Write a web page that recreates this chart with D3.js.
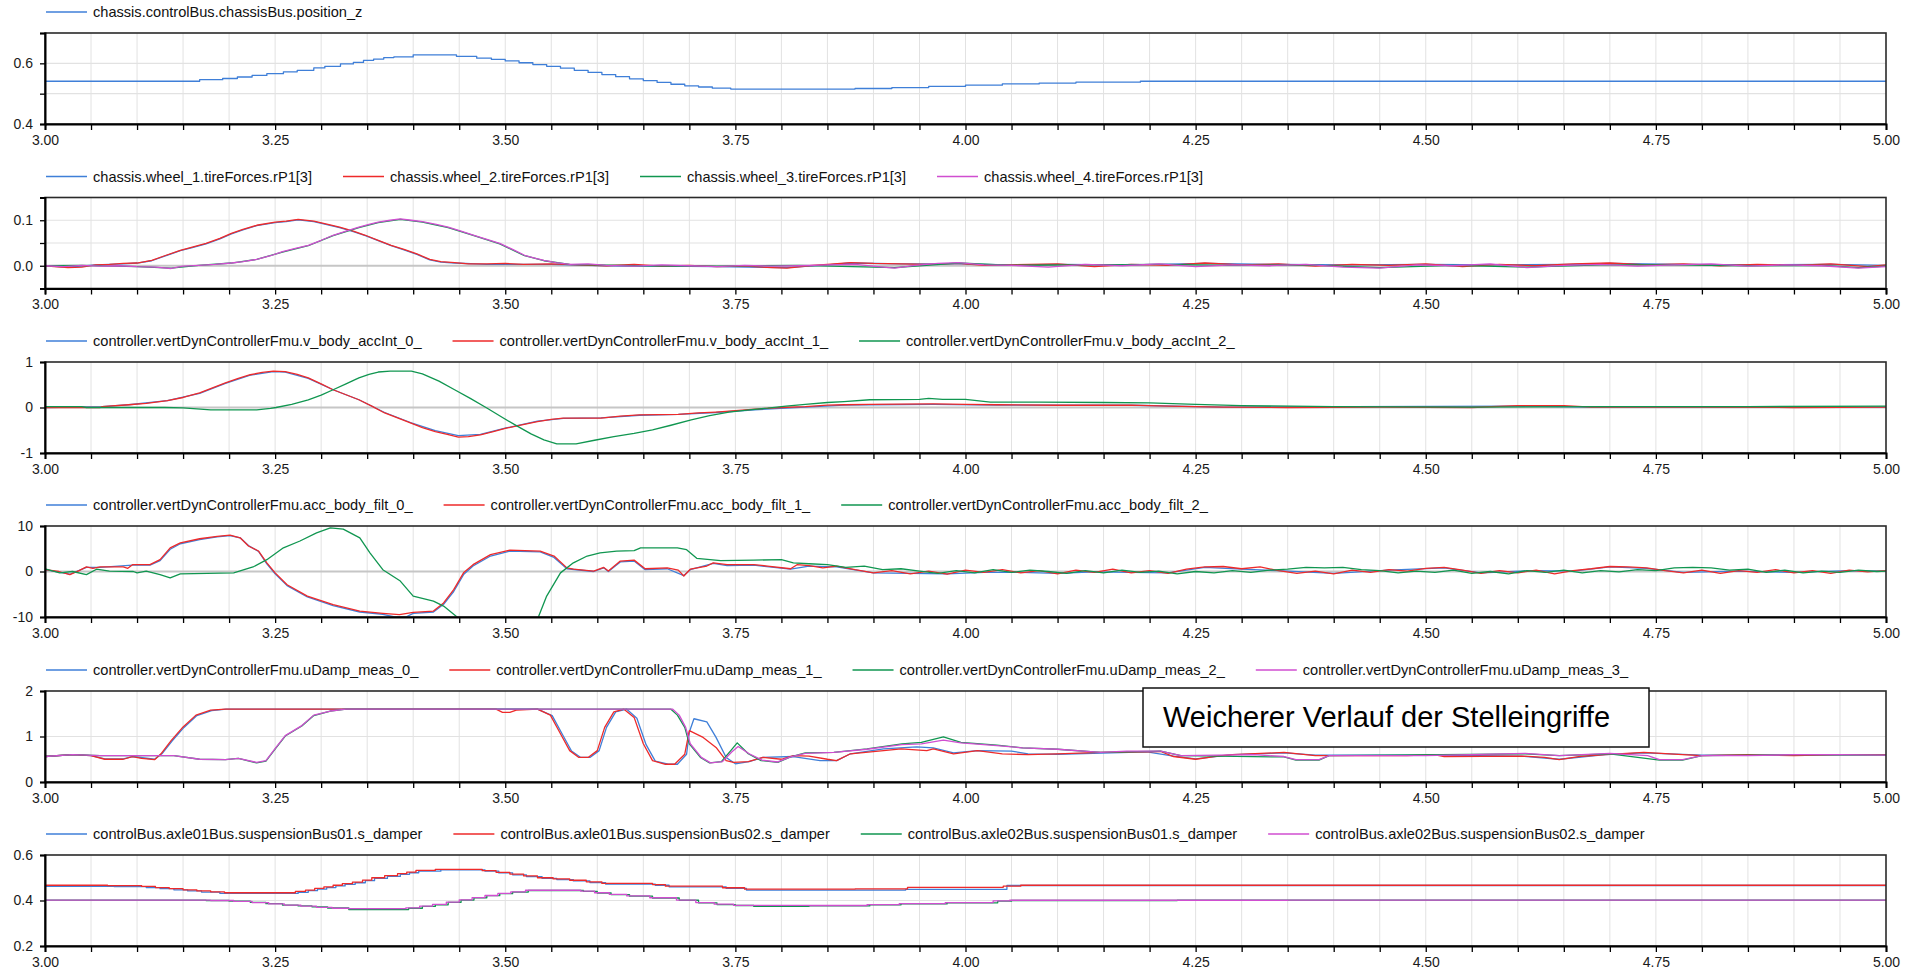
<!DOCTYPE html>
<html>
<head>
<meta charset="utf-8">
<script src="https://cdn.jsdelivr.net/npm/d3@7"></script>
<style>
  html, body { margin: 0; padding: 0; background: #fff; }
  svg text { font-family: "Liberation Sans", Arial, sans-serif; }
</style>
</head>
<body>
<script>
// Six stacked time plots (t = 3.00 .. 5.00 s) of the vertical dynamics controller run.

const timeTickLabels = ["3.00", "3.25", "3.50", "3.75", "4.00", "4.25", "4.50", "4.75", "5.00"];
const seriesColors = ["#3f7fd8", "#ee2a2a", "#109650", "#d04ed0"];

// ---- panel 1 ----
const posNames = ["chassis.controlBus.chassisBus.position_z"];
const positionZ = [[3.000,0.541],[3.168,0.546],[3.193,0.550],[3.209,0.555],[3.225,0.560],[3.241,0.566],[3.259,0.572],[3.274,0.577],[3.292,0.585],[3.304,0.590],[3.321,0.598],[3.335,0.603],[3.346,0.610],[3.357,0.614],[3.368,0.619],[3.379,0.621],[3.400,0.628],[3.447,0.623],[3.469,0.617],[3.485,0.613],[3.500,0.608],[3.515,0.602],[3.530,0.596],[3.545,0.590],[3.560,0.584],[3.575,0.577],[3.590,0.570],[3.605,0.563],[3.620,0.556],[3.635,0.549],[3.650,0.543],[3.665,0.537],[3.680,0.531],[3.695,0.526],[3.710,0.522],[3.725,0.518],[3.745,0.515],[3.880,0.517],[3.920,0.520],[3.960,0.524],[4.000,0.528],[4.040,0.532],[4.080,0.535],[4.120,0.538],[4.190,0.541],[5.000,0.541]];

// ---- panel 2 ----
const tireNames = ["chassis.wheel_1.tireForces.rP1[3]", "chassis.wheel_2.tireForces.rP1[3]", "chassis.wheel_3.tireForces.rP1[3]", "chassis.wheel_4.tireForces.rP1[3]"];
const tireW1 = [[3.000,0.000],[3.025,-0.003],[3.055,0.002],[3.085,0.004],[3.100,0.006],[3.116,0.011],[3.130,0.021],[3.147,0.033],[3.160,0.040],[3.175,0.048],[3.190,0.059],[3.2025,0.070],[3.215,0.079],[3.230,0.088],[3.250,0.095],[3.262,0.097],[3.275,0.101],[3.292,0.097],[3.305,0.091],[3.320,0.084],[3.335,0.075],[3.348,0.066],[3.362,0.055],[3.376,0.044],[3.390,0.035],[3.404,0.025],[3.418,0.013],[3.430,0.008],[3.445,0.006],[3.480,0.003],[3.550,0.003],[3.610,0.000],[3.670,-0.001],[3.730,-0.002],[3.806,-0.004],[3.850,0.002],[3.875,0.006],[3.930,0.004],[3.992,0.004],[4.050,0.002],[4.100,0.003],[4.180,0.002],[4.260,0.005],[4.340,0.003],[4.420,0.002],[4.500,0.003],[4.580,0.002],[4.660,0.003],[4.700,0.005],[4.780,0.003],[4.860,0.002],[4.940,0.003],[5.000,0.001]];
const tireW2 = [[3.000,0.000],[3.010,-0.002],[3.025,-0.004],[3.040,-0.003],[3.055,0.002],[3.070,0.003],[3.085,0.005],[3.100,0.006],[3.116,0.012],[3.130,0.022],[3.147,0.034],[3.160,0.041],[3.175,0.049],[3.190,0.060],[3.2025,0.071],[3.215,0.080],[3.230,0.089],[3.250,0.096],[3.262,0.098],[3.275,0.102],[3.292,0.098],[3.305,0.092],[3.320,0.085],[3.335,0.076],[3.348,0.067],[3.362,0.056],[3.376,0.045],[3.390,0.036],[3.404,0.026],[3.418,0.014],[3.430,0.009],[3.445,0.007],[3.460,0.004],[3.480,0.004],[3.500,0.005],[3.520,0.003],[3.550,0.004],[3.580,0.002],[3.610,0.000],[3.640,0.003],[3.670,-0.001],[3.700,0.001],[3.730,-0.002],[3.760,-0.001],[3.790,-0.004],[3.806,-0.005],[3.830,0.000],[3.850,0.003],[3.875,0.007],[3.900,0.005],[3.930,0.004],[3.960,0.003],[3.992,0.005],[4.020,0.001],[4.050,0.002],[4.100,0.004],[4.140,-0.002],[4.180,0.003],[4.220,0.001],[4.260,0.006],[4.300,0.002],[4.340,0.004],[4.380,-0.001],[4.420,0.003],[4.460,0.001],[4.500,0.004],[4.540,-0.002],[4.580,0.003],[4.620,0.000],[4.660,0.004],[4.700,0.006],[4.740,0.002],[4.780,0.004],[4.820,0.000],[4.860,0.003],[4.900,0.001],[4.940,0.004],[4.980,-0.002],[5.000,0.002]];
const tireW3 = [[3.000,0.000],[3.040,0.001],[3.100,-0.002],[3.137,-0.005],[3.167,0.001],[3.2025,0.006],[3.230,0.014],[3.258,0.030],[3.286,0.044],[3.313,0.066],[3.341,0.084],[3.362,0.095],[3.386,0.102],[3.410,0.096],[3.438,0.084],[3.466,0.066],[3.494,0.048],[3.521,0.022],[3.542,0.011],[3.570,0.003],[3.640,0.000],[3.730,-0.001],[3.820,0.001],[3.923,-0.004],[3.992,0.006],[4.050,0.001],[4.130,0.002],[4.210,0.003],[4.290,0.001],[4.370,0.002],[4.450,-0.004],[4.530,0.001],[4.610,-0.003],[4.690,0.002],[4.770,0.002],[4.850,0.000],[4.930,0.001],[4.970,-0.004],[5.000,-0.001]];
const tireW4 = [[3.000,0.000],[3.020,-0.002],[3.040,0.001],[3.060,-0.001],[3.080,0.000],[3.100,-0.002],[3.120,-0.003],[3.137,-0.006],[3.150,-0.001],[3.167,0.001],[3.185,0.003],[3.2025,0.006],[3.215,0.009],[3.230,0.014],[3.245,0.022],[3.258,0.031],[3.272,0.038],[3.286,0.045],[3.300,0.056],[3.313,0.067],[3.327,0.076],[3.341,0.085],[3.352,0.091],[3.362,0.096],[3.375,0.100],[3.386,0.103],[3.398,0.100],[3.410,0.097],[3.425,0.091],[3.438,0.085],[3.452,0.076],[3.466,0.067],[3.480,0.058],[3.494,0.049],[3.508,0.036],[3.521,0.023],[3.532,0.017],[3.542,0.012],[3.555,0.007],[3.570,0.003],[3.590,0.004],[3.610,0.001],[3.640,-0.001],[3.670,0.002],[3.700,0.000],[3.730,-0.002],[3.760,0.001],[3.790,-0.001],[3.820,0.000],[3.850,0.002],[3.880,0.003],[3.905,-0.002],[3.923,-0.005],[3.945,0.001],[3.970,0.005],[3.992,0.007],[4.020,0.002],[4.050,0.001],[4.090,-0.003],[4.130,0.003],[4.170,0.000],[4.210,0.004],[4.250,-0.002],[4.290,0.002],[4.330,0.000],[4.370,0.003],[4.410,-0.003],[4.450,-0.005],[4.490,0.002],[4.530,0.000],[4.570,0.004],[4.610,-0.004],[4.650,0.001],[4.690,0.003],[4.730,-0.001],[4.770,0.002],[4.810,0.004],[4.850,-0.001],[4.890,0.002],[4.930,0.000],[4.970,-0.005],[5.000,-0.002]];

// ---- panel 3 ----
const accIntNames = ["controller.vertDynControllerFmu.v_body_accInt_0_", "controller.vertDynControllerFmu.v_body_accInt_1_", "controller.vertDynControllerFmu.v_body_accInt_2_"];
const accInt0 = [[3.000,0.00],[3.062,0.02],[3.091,0.06],[3.133,0.15],[3.168,0.31],[3.196,0.53],[3.223,0.71],[3.248,0.79],[3.261,0.78],[3.286,0.64],[3.313,0.39],[3.341,0.17],[3.369,-0.11],[3.397,-0.33],[3.424,-0.51],[3.449,-0.62],[3.473,-0.59],[3.501,-0.45],[3.535,-0.30],[3.563,-0.24],[3.604,-0.23],[3.646,-0.17],[3.688,-0.15],[3.729,-0.11],[3.771,-0.05],[3.826,0.01],[3.868,0.05],[3.896,0.06],[3.965,0.07],[4.034,0.05],[4.180,0.05],[4.280,0.01],[4.600,0.03],[4.680,0.01],[5.000,0.01]];
const accInt1 = [[3.000,0.00],[3.060,0.00],[3.062,0.02],[3.091,0.06],[3.110,0.09],[3.133,0.15],[3.150,0.22],[3.168,0.32],[3.182,0.43],[3.196,0.54],[3.210,0.64],[3.223,0.72],[3.236,0.77],[3.248,0.80],[3.261,0.79],[3.274,0.73],[3.286,0.65],[3.300,0.52],[3.313,0.39],[3.327,0.28],[3.341,0.17],[3.355,0.03],[3.369,-0.12],[3.383,-0.23],[3.397,-0.34],[3.410,-0.44],[3.424,-0.53],[3.437,-0.59],[3.449,-0.65],[3.460,-0.64],[3.473,-0.60],[3.487,-0.53],[3.501,-0.455],[3.518,-0.38],[3.535,-0.31],[3.550,-0.26],[3.563,-0.235],[3.604,-0.235],[3.625,-0.19],[3.646,-0.16],[3.688,-0.15],[3.710,-0.12],[3.729,-0.10],[3.750,-0.07],[3.771,-0.035],[3.800,0.00],[3.826,0.02],[3.850,0.05],[3.868,0.06],[3.896,0.07],[3.965,0.08],[4.000,0.07],[4.034,0.06],[4.100,0.05],[4.180,0.05],[4.220,0.03],[4.280,0.01],[4.350,0.00],[4.450,0.01],[4.550,0.00],[4.600,0.04],[4.650,0.04],[4.680,0.01],[4.800,0.01],[4.900,0.00],[5.000,0.01]];
const accInt2 = [[3.000,0.02],[3.040,0.02],[3.045,0.00],[3.130,0.00],[3.150,-0.01],[3.180,-0.05],[3.230,-0.05],[3.245,-0.02],[3.251,0.00],[3.268,0.07],[3.286,0.17],[3.300,0.27],[3.313,0.39],[3.327,0.52],[3.341,0.65],[3.352,0.73],[3.362,0.78],[3.375,0.80],[3.398,0.80],[3.410,0.74],[3.428,0.58],[3.445,0.39],[3.462,0.20],[3.480,-0.01],[3.497,-0.22],[3.514,-0.42],[3.528,-0.58],[3.542,-0.71],[3.556,-0.80],[3.577,-0.80],[3.597,-0.72],[3.618,-0.64],[3.640,-0.57],[3.660,-0.49],[3.680,-0.39],[3.702,-0.27],[3.722,-0.18],[3.743,-0.10],[3.765,-0.05],[3.785,-0.015],[3.805,0.03],[3.826,0.07],[3.850,0.11],[3.868,0.13],[3.896,0.17],[3.950,0.18],[3.960,0.20],[3.975,0.18],[4.000,0.18],[4.027,0.12],[4.080,0.12],[4.150,0.11],[4.200,0.10],[4.250,0.07],[4.300,0.04],[4.400,0.02],[4.550,0.01],[4.700,0.02],[4.850,0.02],[5.000,0.03]];

// ---- panel 4 ----
const accFiltNames = ["controller.vertDynControllerFmu.acc_body_filt_0_", "controller.vertDynControllerFmu.acc_body_filt_1_", "controller.vertDynControllerFmu.acc_body_filt_2_"];
const accFilt0 = [[3.000,0.4],[3.027,-0.6],[3.045,0.9],[3.060,0.9],[3.095,1.4],[3.114,1.4],[3.125,2.4],[3.136,4.9],[3.147,6.1],[3.168,7.0],[3.187,7.6],[3.201,7.9],[3.212,7.4],[3.221,5.7],[3.232,4.4],[3.241,1.7],[3.250,-0.5],[3.263,-3.1],[3.285,-5.6],[3.313,-7.5],[3.342,-8.9],[3.367,-9.4],[3.380,-10.0],[3.392,-10.0],[3.400,-9.2],[3.422,-8.9],[3.433,-7.2],[3.444,-4.4],[3.455,-0.6],[3.465,1.2],[3.484,3.4],[3.505,4.5],[3.538,4.3],[3.553,3.1],[3.567,0.6],[3.596,0.0],[3.607,0.8],[3.612,0.0],[3.625,2.1],[3.640,2.3],[3.652,0.4],[3.676,0.6],[3.694,-0.9],[3.701,0.4],[3.726,1.8],[3.741,1.3],[3.770,1.4],[3.810,0.5],[3.830,1.2],[3.860,1.0],[3.900,-0.3],[3.940,-0.4],[3.980,-0.5],[4.020,-0.2],[4.060,-0.2],[4.100,-0.4],[4.140,-0.1],[4.180,-0.2],[4.220,-0.3],[4.260,0.9],[4.300,0.5],[4.340,0.2],[4.400,-0.4],[4.460,0.3],[4.520,0.8],[4.560,-0.3],[4.620,0.2],[4.660,0.1],[4.700,1.0],[4.740,0.7],[4.780,-0.2],[4.840,0.1],[4.900,-0.2],[4.960,0.2],[5.000,0.1]];
const accFilt1 = [[3.000,0.4],[3.015,0.0],[3.027,-0.7],[3.037,0.2],[3.045,1.0],[3.052,0.7],[3.060,1.0],[3.085,1.0],[3.090,0.7],[3.095,1.5],[3.114,1.5],[3.125,2.6],[3.136,5.2],[3.147,6.3],[3.168,7.2],[3.187,7.7],[3.201,8.0],[3.212,7.4],[3.221,5.6],[3.232,4.5],[3.241,1.9],[3.250,-0.3],[3.263,-2.9],[3.285,-5.4],[3.313,-7.3],[3.342,-8.7],[3.367,-9.2],[3.385,-9.5],[3.400,-9.0],[3.422,-8.7],[3.433,-6.9],[3.444,-4.0],[3.455,-0.2],[3.465,1.5],[3.484,3.7],[3.505,4.7],[3.538,4.5],[3.553,3.4],[3.567,0.8],[3.574,0.5],[3.596,0.1],[3.607,0.9],[3.612,0.1],[3.625,2.3],[3.640,2.5],[3.652,0.6],[3.676,0.8],[3.688,0.3],[3.694,-1.0],[3.701,0.5],[3.719,1.2],[3.726,1.9],[3.741,1.5],[3.770,1.5],[3.785,1.2],[3.810,0.6],[3.817,1.5],[3.830,1.3],[3.845,0.8],[3.860,1.2],[3.880,0.4],[3.900,-0.3],[3.920,0.2],[3.940,-0.5],[3.960,0.1],[3.980,-0.6],[4.000,0.3],[4.020,-0.2],[4.040,0.4],[4.060,-0.3],[4.080,0.2],[4.100,-0.5],[4.120,0.3],[4.140,-0.2],[4.160,0.5],[4.180,-0.3],[4.200,0.2],[4.220,-0.4],[4.240,0.5],[4.260,1.0],[4.280,1.1],[4.300,0.6],[4.320,1.0],[4.340,0.2],[4.360,-0.4],[4.380,0.1],[4.400,-0.5],[4.420,0.3],[4.440,-0.2],[4.460,0.4],[4.480,0.1],[4.500,0.7],[4.520,0.9],[4.540,0.3],[4.560,-0.4],[4.580,0.2],[4.600,-0.3],[4.620,0.3],[4.640,-0.5],[4.660,0.2],[4.680,0.6],[4.700,1.1],[4.720,1.0],[4.740,0.8],[4.760,0.2],[4.780,-0.3],[4.800,0.3],[4.820,-0.4],[4.840,0.2],[4.860,-0.2],[4.880,0.4],[4.900,-0.3],[4.920,0.2],[4.940,-0.4],[4.960,0.3],[4.980,-0.1],[5.000,0.2]];
const accFilt2 = [[3.000,0.6],[3.016,-0.3],[3.030,0.0],[3.045,-0.7],[3.056,0.5],[3.070,0.1],[3.096,0.0],[3.100,-0.3],[3.110,0.1],[3.125,-0.7],[3.136,-1.4],[3.147,-0.5],[3.205,-0.3],[3.226,1.0],[3.241,2.6],[3.259,5.2],[3.277,6.7],[3.295,8.5],[3.310,9.6],[3.324,9.3],[3.342,7.4],[3.353,4.1],[3.367,0.4],[3.386,-2.1],[3.400,-5.4],[3.422,-6.5],[3.433,-7.6],[3.446,-9.7],[3.460,-13.0],[3.500,-16.0],[3.525,-14.0],[3.536,-10.0],[3.545,-5.4],[3.560,-0.3],[3.574,1.9],[3.589,3.4],[3.603,4.1],[3.621,4.5],[3.640,4.6],[3.647,5.2],[3.687,5.2],[3.697,4.8],[3.708,2.9],[3.734,2.4],[3.770,2.5],[3.800,2.6],[3.813,1.9],[3.830,1.7],[3.850,1.5],[3.870,0.9],[3.890,1.2],[3.910,0.4],[3.930,0.6],[3.950,0.1],[3.970,-0.4],[3.990,0.2],[4.010,-0.3],[4.030,0.4],[4.050,-0.2],[4.070,0.3],[4.090,0.0],[4.110,-0.4],[4.130,0.2],[4.150,-0.3],[4.170,0.3],[4.190,-0.2],[4.210,0.1],[4.230,-0.5],[4.250,0.0],[4.270,-0.3],[4.290,0.2],[4.310,-0.2],[4.330,0.3],[4.350,0.5],[4.370,0.9],[4.390,0.8],[4.410,0.9],[4.430,0.4],[4.450,0.2],[4.470,-0.3],[4.490,0.1],[4.510,-0.2],[4.530,0.3],[4.550,-0.4],[4.570,0.0],[4.590,-0.5],[4.610,0.2],[4.630,-0.2],[4.650,0.3],[4.670,-0.3],[4.690,0.2],[4.710,-0.1],[4.730,0.4],[4.750,0.2],[4.770,0.8],[4.790,0.9],[4.810,0.8],[4.830,0.3],[4.850,0.5],[4.870,-0.2],[4.890,0.3],[4.910,-0.3],[4.930,0.1],[4.950,-0.2],[4.970,0.3],[4.990,0.0],[5.000,0.1]];

// ---- panel 5 ----
const uDampNames = ["controller.vertDynControllerFmu.uDamp_meas_0_", "controller.vertDynControllerFmu.uDamp_meas_1_", "controller.vertDynControllerFmu.uDamp_meas_2_", "controller.vertDynControllerFmu.uDamp_meas_3_"];
const uDamp0 = [[3.000,0.56],[3.030,0.60],[3.050,0.58],[3.065,0.51],[3.085,0.51],[3.095,0.56],[3.119,0.50],[3.127,0.62],[3.138,0.90],[3.151,1.20],[3.165,1.46],[3.181,1.57],[3.197,1.60],[3.535,1.60],[3.551,1.46],[3.562,1.05],[3.572,0.68],[3.582,0.54],[3.592,0.54],[3.602,0.69],[3.610,1.20],[3.620,1.54],[3.632,1.60],[3.643,1.40],[3.653,0.82],[3.663,0.46],[3.677,0.39],[3.687,0.39],[3.697,0.61],[3.700,1.10],[3.705,1.39],[3.719,1.32],[3.729,0.98],[3.740,0.54],[3.750,0.40],[3.765,0.45],[3.780,0.54],[3.813,0.56],[3.842,0.47],[3.860,0.47],[3.875,0.62],[3.911,0.73],[3.947,0.77],[3.965,0.75],[3.987,0.64],[4.013,0.69],[4.050,0.68],[4.068,0.62],[4.100,0.61],[4.197,0.66],[4.226,0.57],[4.250,0.51],[4.290,0.60],[4.346,0.64],[4.380,0.59],[4.509,0.59],[4.604,0.57],[4.645,0.50],[4.695,0.60],[4.737,0.64],[4.800,0.59],[4.900,0.59],[5.000,0.60]];
const uDamp1 = [[3.000,0.56],[3.030,0.60],[3.050,0.58],[3.065,0.50],[3.085,0.50],[3.095,0.56],[3.105,0.52],[3.119,0.49],[3.126,0.62],[3.137,0.91],[3.150,1.21],[3.164,1.47],[3.180,1.58],[3.196,1.60],[3.490,1.60],[3.497,1.53],[3.505,1.53],[3.512,1.58],[3.535,1.60],[3.549,1.47],[3.560,1.06],[3.570,0.69],[3.580,0.54],[3.590,0.54],[3.600,0.69],[3.608,1.20],[3.618,1.54],[3.629,1.60],[3.640,1.42],[3.650,0.84],[3.660,0.47],[3.674,0.39],[3.684,0.39],[3.695,0.61],[3.700,1.13],[3.715,0.98],[3.729,0.76],[3.740,0.47],[3.748,0.43],[3.764,0.45],[3.780,0.54],[3.800,0.50],[3.813,0.58],[3.830,0.57],[3.850,0.50],[3.860,0.47],[3.875,0.62],[3.911,0.69],[3.930,0.73],[3.958,0.69],[3.965,0.73],[3.987,0.62],[4.013,0.69],[4.040,0.62],[4.068,0.60],[4.100,0.62],[4.147,0.65],[4.197,0.66],[4.212,0.67],[4.226,0.56],[4.250,0.50],[4.270,0.56],[4.290,0.60],[4.346,0.65],[4.380,0.58],[4.480,0.58],[4.509,0.60],[4.520,0.56],[4.604,0.57],[4.629,0.54],[4.645,0.49],[4.666,0.56],[4.695,0.60],[4.737,0.65],[4.779,0.60],[4.800,0.58],[4.850,0.60],[4.900,0.58],[4.950,0.60],[5.000,0.60]];
const uDamp2 = [[3.000,0.56],[3.030,0.60],[3.060,0.58],[3.140,0.58],[3.168,0.50],[3.196,0.49],[3.210,0.52],[3.230,0.42],[3.240,0.46],[3.251,0.75],[3.261,1.01],[3.279,1.23],[3.292,1.46],[3.310,1.56],[3.327,1.60],[3.680,1.60],[3.687,1.47],[3.695,1.20],[3.700,0.84],[3.712,0.54],[3.722,0.42],[3.735,0.45],[3.745,0.69],[3.752,0.86],[3.764,0.62],[3.778,0.47],[3.796,0.43],[3.810,0.55],[3.826,0.64],[3.857,0.65],[3.893,0.73],[3.931,0.84],[3.952,0.87],[3.976,0.99],[3.995,0.87],[4.034,0.81],[4.062,0.75],[4.100,0.72],[4.147,0.65],[4.212,0.68],[4.234,0.58],[4.346,0.55],[4.359,0.48],[4.384,0.48],[4.395,0.58],[4.608,0.62],[4.645,0.58],[4.700,0.62],[4.754,0.48],[4.779,0.48],[4.800,0.58],[4.900,0.60],[5.000,0.59]];
const uDamp3 = [[3.000,0.56],[3.030,0.60],[3.060,0.58],[3.099,0.58],[3.140,0.58],[3.168,0.50],[3.196,0.49],[3.210,0.52],[3.230,0.43],[3.240,0.47],[3.251,0.76],[3.261,1.02],[3.279,1.24],[3.292,1.47],[3.310,1.56],[3.327,1.60],[3.682,1.60],[3.689,1.47],[3.696,1.20],[3.701,0.84],[3.713,0.54],[3.723,0.42],[3.736,0.45],[3.746,0.66],[3.753,0.78],[3.765,0.62],[3.779,0.48],[3.796,0.44],[3.810,0.55],[3.826,0.63],[3.857,0.65],[3.893,0.72],[3.931,0.82],[3.952,0.84],[3.976,0.92],[3.995,0.86],[4.034,0.80],[4.062,0.75],[4.100,0.72],[4.147,0.65],[4.175,0.68],[4.212,0.68],[4.234,0.58],[4.313,0.60],[4.346,0.56],[4.359,0.49],[4.384,0.49],[4.395,0.58],[4.500,0.58],[4.608,0.63],[4.645,0.58],[4.700,0.63],[4.741,0.58],[4.754,0.49],[4.779,0.49],[4.800,0.58],[4.850,0.58],[4.900,0.60],[4.950,0.60],[5.000,0.59]];

// ---- panel 6 ----
const damperNames = ["controlBus.axle01Bus.suspensionBus01.s_damper", "controlBus.axle01Bus.suspensionBus02.s_damper", "controlBus.axle02Bus.suspensionBus01.s_damper", "controlBus.axle02Bus.suspensionBus02.s_damper"];
const damper11 = [[3.000,0.462],[3.075,0.461],[3.110,0.457],[3.125,0.452],[3.140,0.447],[3.155,0.442],[3.170,0.437],[3.190,0.431],[3.275,0.436],[3.286,0.443],[3.296,0.450],[3.306,0.457],[3.316,0.464],[3.326,0.471],[3.337,0.478],[3.348,0.487],[3.358,0.497],[3.372,0.506],[3.386,0.515],[3.396,0.522],[3.406,0.529],[3.430,0.535],[3.478,0.529],[3.493,0.521],[3.508,0.513],[3.523,0.505],[3.540,0.497],[3.556,0.492],[3.574,0.486],[3.592,0.479],[3.609,0.472],[3.663,0.467],[3.678,0.460],[3.740,0.453],[3.762,0.446],[3.935,0.449],[4.045,0.466],[5.000,0.466]];
const damper12 = [[3.000,0.467],[3.068,0.465],[3.105,0.462],[3.120,0.457],[3.135,0.452],[3.150,0.447],[3.165,0.442],[3.180,0.438],[3.195,0.434],[3.272,0.440],[3.283,0.446],[3.293,0.453],[3.303,0.460],[3.313,0.467],[3.323,0.474],[3.334,0.481],[3.345,0.490],[3.355,0.500],[3.369,0.509],[3.383,0.518],[3.393,0.525],[3.403,0.532],[3.424,0.537],[3.475,0.531],[3.490,0.524],[3.505,0.516],[3.520,0.508],[3.535,0.500],[3.552,0.495],[3.570,0.489],[3.588,0.482],[3.605,0.475],[3.660,0.470],[3.674,0.463],[3.736,0.456],[3.760,0.450],[3.880,0.451],[3.937,0.458],[4.041,0.463],[4.060,0.467],[5.000,0.467]];
const damper21 = [[3.000,0.402],[3.175,0.400],[3.200,0.397],[3.223,0.392],[3.240,0.386],[3.258,0.380],[3.275,0.376],[3.290,0.372],[3.307,0.367],[3.330,0.360],[3.395,0.366],[3.410,0.374],[3.424,0.381],[3.438,0.392],[3.452,0.402],[3.466,0.412],[3.480,0.421],[3.494,0.430],[3.508,0.437],[3.525,0.444],[3.585,0.440],[3.600,0.433],[3.615,0.426],[3.635,0.419],[3.660,0.411],[3.689,0.401],[3.710,0.390],[3.730,0.382],[3.750,0.378],[3.770,0.374],[3.830,0.376],[3.896,0.381],[3.930,0.385],[3.980,0.390],[4.035,0.397],[4.050,0.400],[4.230,0.401],[4.350,0.402],[5.000,0.402]];
const damper22 = [[3.000,0.402],[3.180,0.400],[3.205,0.396],[3.225,0.391],[3.243,0.385],[3.260,0.380],[3.278,0.375],[3.295,0.370],[3.312,0.366],[3.330,0.364],[3.392,0.368],[3.407,0.375],[3.421,0.383],[3.436,0.393],[3.450,0.403],[3.464,0.413],[3.478,0.422],[3.492,0.431],[3.506,0.438],[3.522,0.445],[3.582,0.441],[3.597,0.434],[3.613,0.427],[3.632,0.420],[3.657,0.412],[3.686,0.402],[3.707,0.391],[3.727,0.384],[3.748,0.379],[3.830,0.378],[3.893,0.382],[3.928,0.386],[3.978,0.391],[4.030,0.398],[4.048,0.401],[4.350,0.402],[5.000,0.402]];

const noteText = "Weicherer Verlauf der Stelleingriffe";

// ---------------------------------------------------------------------------

const width = 1919;
const height = 970;
const plotLeft = 45, plotRight = 1886;
const plotHeight = 91;
const panelTops = [33, 197.5, 362, 526, 691, 855];

const panels = [
  { names: posNames, series: [positionZ], domain: [0.4, 0.7],
    ticks: [0.4, 0.5, 0.6, 0.7], labels: { 0.4: "0.4", 0.6: "0.6" }, grid: [0.5, 0.6], zero: null, step: true },
  { names: tireNames, series: [tireW1, tireW2, tireW3, tireW4], domain: [-0.05, 0.15],
    ticks: [-0.05, 0, 0.05, 0.1, 0.15], labels: { 0: "0.0", 0.1: "0.1" }, grid: [0.05, 0.1], zero: 0, step: false },
  { names: accIntNames, series: [accInt0, accInt1, accInt2], domain: [-1, 1],
    ticks: [-1, 0, 1], labels: { "-1": "-1", 0: "0", 1: "1" }, grid: [], zero: 0, step: false },
  { names: accFiltNames, series: [accFilt0, accFilt1, accFilt2], domain: [-10, 10],
    ticks: [-10, 0, 10], labels: { "-10": "-10", 0: "0", 10: "10" }, grid: [], zero: 0, step: false },
  { names: uDampNames, series: [uDamp0, uDamp1, uDamp2, uDamp3], domain: [0, 2],
    ticks: [0, 1, 2], labels: { 0: "0", 1: "1", 2: "2" }, grid: [1], zero: null, step: false },
  { names: damperNames, series: [damper11, damper12, damper21, damper22], domain: [0.2, 0.6],
    ticks: [0.2, 0.4, 0.6], labels: { 0.2: "0.2", 0.4: "0.4", 0.6: "0.6" }, grid: [0.4], zero: null, step: true }
];

const svg = d3.select("body").append("svg")
  .attr("width", width)
  .attr("height", height);

const x = d3.scaleLinear().domain([3, 5]).range([plotLeft, plotRight]);

// vertical grid + x ticks every 0.05 s, labels every 0.25 s
const xTickValues = d3.range(0, 41).map(i => 3 + i * 0.05);

panels.forEach((p, pi) => {
  const top = panelTops[pi];
  const bottom = top + plotHeight;
  const y = d3.scaleLinear().domain(p.domain).range([bottom, top]);
  const g = svg.append("g");

  g.append("clipPath").attr("id", `clip${pi}`)
    .append("rect")
    .attr("x", plotLeft).attr("y", top)
    .attr("width", plotRight - plotLeft).attr("height", plotHeight);

  // grid
  g.append("g").selectAll("line")
    .data(xTickValues.slice(1, -1))
    .join("line")
    .attr("x1", d => x(d)).attr("x2", d => x(d))
    .attr("y1", top).attr("y2", bottom)
    .attr("stroke", "#e2e2e2").attr("stroke-width", 1);

  g.append("g").selectAll("line")
    .data(p.grid)
    .join("line")
    .attr("x1", plotLeft).attr("x2", plotRight)
    .attr("y1", d => y(d)).attr("y2", d => y(d))
    .attr("stroke", "#e2e2e2").attr("stroke-width", 1.2);

  if (p.zero !== null) {
    g.append("line")
      .attr("x1", plotLeft).attr("x2", plotRight)
      .attr("y1", y(p.zero)).attr("y2", y(p.zero))
      .attr("stroke", "#c6c6c6").attr("stroke-width", 2);
  }

  // curves
  const line = d3.line()
    .x(d => x(d[0]))
    .y(d => y(d[1]))
    .curve(p.step ? d3.curveStepAfter : d3.curveLinear);

  g.append("g").attr("clip-path", `url(#clip${pi})`)
    .selectAll("path")
    .data(p.series)
    .join("path")
    .attr("d", line)
    .attr("fill", "none")
    .attr("stroke", (d, i) => seriesColors[i])
    .attr("stroke-width", 1.3)
    .attr("stroke-linejoin", "round");

  // frame
  g.append("rect")
    .attr("x", plotLeft).attr("y", top)
    .attr("width", plotRight - plotLeft).attr("height", plotHeight)
    .attr("fill", "none").attr("stroke", "#2a2a2a").attr("stroke-width", 1.6);

  // y axis
  const yAxis = g.append("g")
    .attr("transform", `translate(${plotLeft},0)`)
    .call(d3.axisLeft(y).tickValues(p.ticks).tickSize(5).tickPadding(7)
      .tickFormat(d => p.labels[d] !== undefined ? p.labels[d] : ""));
  yAxis.select(".domain").attr("stroke", "#000").attr("stroke-width", 2);
  yAxis.selectAll(".tick line").attr("stroke", "#000").attr("stroke-width", 1.3);
  yAxis.selectAll(".tick text")
    .attr("fill", "#1a1a1a").attr("font-size", 14)
    .style("font-family", "'Liberation Sans', Arial, sans-serif");

  // x axis
  const xAxis = g.append("g")
    .attr("transform", `translate(0,${bottom})`)
    .call(d3.axisBottom(x).tickValues(xTickValues).tickSize(6).tickPadding(5)
      .tickFormat((d, i) => i % 5 === 0 ? timeTickLabels[i / 5] : ""));
  xAxis.select(".domain").attr("stroke", "#000").attr("stroke-width", 2);
  xAxis.selectAll(".tick line").attr("stroke", "#000").attr("stroke-width", 1.3);
  xAxis.selectAll(".tick text")
    .attr("fill", "#1a1a1a").attr("font-size", 14)
    .style("font-family", "'Liberation Sans', Arial, sans-serif");

  // legend row: line sample, label, then a fixed gap to the next entry
  const legendY = top - 21;
  let cursor = 46;
  p.names.forEach((name, i) => {
    const item = g.append("g");
    item.append("line")
      .attr("x1", cursor).attr("x2", cursor + 41)
      .attr("y1", legendY).attr("y2", legendY)
      .attr("stroke", seriesColors[i]).attr("stroke-width", 1.5);
    const label = item.append("text")
      .attr("x", cursor + 47).attr("y", legendY)
      .attr("dy", "0.35em")
      .attr("font-size", 14.6)
      .attr("fill", "#111")
      .text(name);
    cursor = cursor + 47 + label.node().getComputedTextLength() + 31;
  });
});

// annotation box over the uDamp panel
const note = svg.append("g");
note.append("rect")
  .attr("x", 1143).attr("y", 688)
  .attr("width", 506).attr("height", 59)
  .attr("fill", "#fff").attr("stroke", "#111").attr("stroke-width", 1.5);
note.append("text")
  .attr("x", 1163).attr("y", 727)
  .attr("font-size", 29)
  .attr("fill", "#000")
  .text(noteText);
</script>
</body>
</html>
